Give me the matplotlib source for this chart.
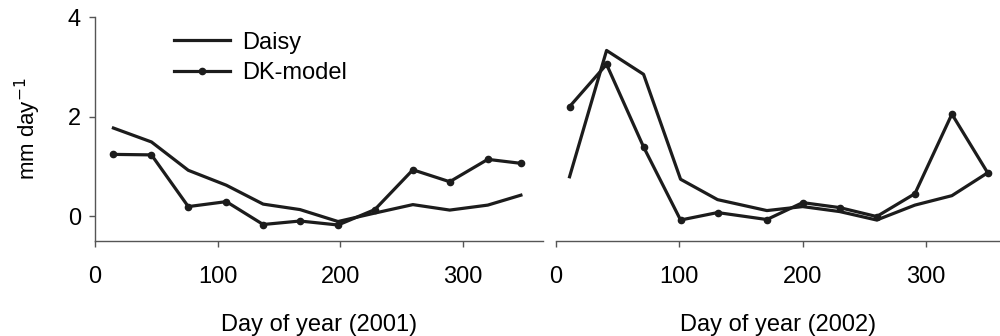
import matplotlib
matplotlib.use("Agg")
import matplotlib.pyplot as plt

plt.rcParams['font.family'] = ['Liberation Sans', 'DejaVu Sans']

# 2001 (left panel)
day_2001 = [15, 46, 76, 107, 137, 167, 198, 228, 259, 289, 320, 347]
daisy_2001 = [1.77, 1.49, 0.92, 0.62, 0.24, 0.13, -0.11, 0.06, 0.23, 0.12, 0.22, 0.42]
dk_2001 = [1.24, 1.23, 0.19, 0.29, -0.17, -0.10, -0.18, 0.13, 0.93, 0.69, 1.14, 1.06]

# 2002 (right panel)
day_2002 = [11, 41, 71, 101, 131, 171, 200, 230, 260, 291, 321, 350]
daisy_2002 = [0.79, 3.33, 2.85, 0.74, 0.33, 0.11, 0.19, 0.09, -0.08, 0.22, 0.41, 0.87]
dk_2002 = [2.20, 3.05, 1.39, -0.08, 0.07, -0.07, 0.27, 0.17, -0.01, 0.45, 2.05, 0.87]

xticks = [0, 100, 200, 300]
yticks = [0, 2, 4]

col = '#1c1c1c'
lw = 2.3
fs = 17

fig = plt.figure(figsize=(10, 3.36), dpi=100)
ax1 = fig.add_axes([0.095, 0.283, 0.448, 0.666])
ax2 = fig.add_axes([0.556, 0.283, 0.444, 0.666])

ax1.plot(day_2001, daisy_2001, color=col, lw=lw, label='Daisy')
ax1.plot(day_2001, dk_2001, color=col, lw=lw, marker='o', ms=4.5, label='DK-model')
ax2.plot(day_2002, daisy_2002, color=col, lw=lw)
ax2.plot(day_2002, dk_2002, color=col, lw=lw, marker='o', ms=4.5)

for ax in (ax1, ax2):
    ax.set_ylim(-0.5, 4)
    ax.set_xticks(xticks)
    ax.spines['top'].set_visible(False)
    ax.spines['right'].set_visible(False)
    ax.spines['bottom'].set_color('#555555')
    ax.spines['bottom'].set_linewidth(1.0)
    ax.tick_params(axis='x', direction='out', length=4, width=1, color='#555555',
                   pad=14, labelsize=fs)

ax1.set_xlim(0, 365)
ax2.set_xlim(0, 360)

ax1.set_yticks(yticks)
ax1.spines['left'].set_color('#555555')
ax1.spines['left'].set_linewidth(1.0)
ax1.tick_params(axis='y', direction='out', length=4, width=1, color='#555555',
                pad=6, labelsize=fs)
ax1.set_ylabel('mm day$^{-1}$', fontsize=16, labelpad=18)

ax2.spines['left'].set_visible(False)
ax2.set_yticks([])

ax1.set_xlabel('Day of year (2001)', fontsize=fs, labelpad=19)
ax2.set_xlabel('Day of year (2002)', fontsize=fs, labelpad=19)

ax1.legend(loc='upper left', bbox_to_anchor=(0.13, 1.03), frameon=False,
           fontsize=fs, handlelength=2.35, handletextpad=0.5, labelspacing=0.35)

fig.savefig('out.png', dpi=100)
